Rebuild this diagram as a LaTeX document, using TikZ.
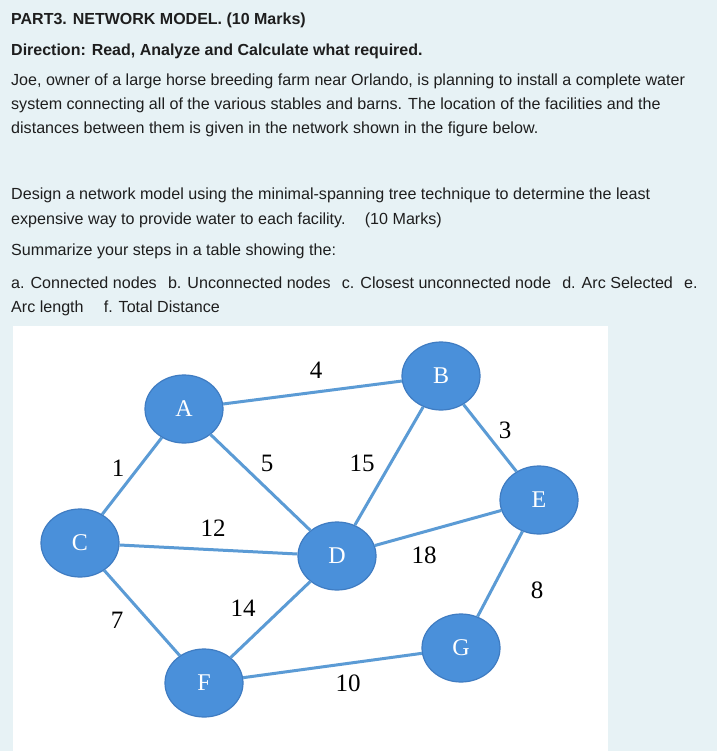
\documentclass[tikz,border=0pt]{standalone}
\usepackage{fontspec}
\setmainfont{Liberation Sans}
\newfontfamily\labelfont{Liberation Serif}
\usetikzlibrary{shapes.geometric}
\definecolor{pagebg}{HTML}{E7F2F5}
\definecolor{edgeblue}{HTML}{5B9BD5}
\definecolor{nodeblue}{HTML}{4A90DA}
\definecolor{nodeline}{HTML}{3F7CC2}
\definecolor{inktext}{HTML}{1E1E1E}

\begin{document}
\begin{tikzpicture}[x=1pt, y=-1pt,
        facility/.style={
            ellipse, draw=nodeline, line width=1.2pt, fill=nodeblue,
            minimum width=78pt, minimum height=68pt, inner sep=0pt,
            text=white, font=\labelfont\fontsize{24}{24}\selectfont
        },
        pipe/.style={draw=edgeblue, line width=3pt},
        dist/.style={inner sep=0pt, font=\labelfont\fontsize{25}{25}\selectfont},
        para/.style={anchor=base west, inner sep=0pt, text=inktext,
            font=\fontsize{16.1}{16}\selectfont},
        headline/.style={para, font=\bfseries\fontsize{16}{16}\selectfont}
    ]
        % page and figure panel
        \fill[pagebg] (0,0) rectangle (717,751);
        \fill[white] (13,326) rectangle (608,751);

        % question text
        \node[headline] (t1) at (11,25) {PART3. NETWORK MODEL. (10 Marks)};
        \node[headline] (t2) at (11,56) {Direction: Read, Analyze and Calculate what required.};
        \node[para] (p1) at (11,86) {Joe, owner of a large horse breeding farm near Orlando, is planning to install a complete water};
        \node[para] (p2) at (11,110) {system connecting all of the various stables and barns. The location of the facilities and the};
        \node[para] (p3) at (11,134) {distances between them is given in the network shown in the figure below.};
        \node[para] (q1) at (11,200) {Design a network model using the minimal-spanning tree technique to determine the least};
        \node[para] (q2) at (11,224) {expensive way to provide water to each facility.\hspace{1.2em}(10 Marks)};
        \node[para] (q3) at (11,255) {Summarize your steps in a table showing the:};
        \node[para] (q4) at (11,288) {a. Connected nodes\hspace{0.7em}b. Unconnected nodes\hspace{0.7em}c. Closest unconnected node\hspace{0.7em}d. Arc Selected\hspace{0.7em}e.};
        \node[para] (q5) at (11,312) {Arc length\hspace{1.25em}f. Total Distance};

        % facilities
        \node[facility] (A) at (184,409) {A};
        \node[facility] (B) at (441,376) {B};
        \node[facility] (C) at (80,543) {C};
        \node[facility] (D) at (337,556) {D};
        \node[facility] (E) at (539,500) {E};
        \node[facility] (F) at (204,683) {F};
        \node[facility] (G) at (461,648) {G};

        % pipes
        \draw[pipe] (A) -- (B);
        \draw[pipe] (A) -- (C);
        \draw[pipe] (A) -- (D);
        \draw[pipe] (B) -- (D);
        \draw[pipe] (B) -- (E);
        \draw[pipe] (C) -- (D);
        \draw[pipe] (C) -- (F);
        \draw[pipe] (D) -- (E);
        \draw[pipe] (D) -- (F);
        \draw[pipe] (F) -- (G);
        \draw[pipe] (E) -- (G);

        % distances
        \node[dist] (dAB) at (316,370) {4};
        \node[dist] (dBE) at (505,430) {3};
        \node[dist] (dAC) at (118,468) {1};
        \node[dist] (dAD) at (267,463) {5};
        \node[dist] (dBD) at (362,463) {15};
        \node[dist] (dCD) at (213,528) {12};
        \node[dist] (dDE) at (424,555) {18};
        \node[dist] (dEG) at (537,590) {8};
        \node[dist] (dCF) at (117,620) {7};
        \node[dist] (dDF) at (243,608) {14};
        \node[dist] (dFG) at (348,683) {10};
    \end{tikzpicture}
\end{document}
